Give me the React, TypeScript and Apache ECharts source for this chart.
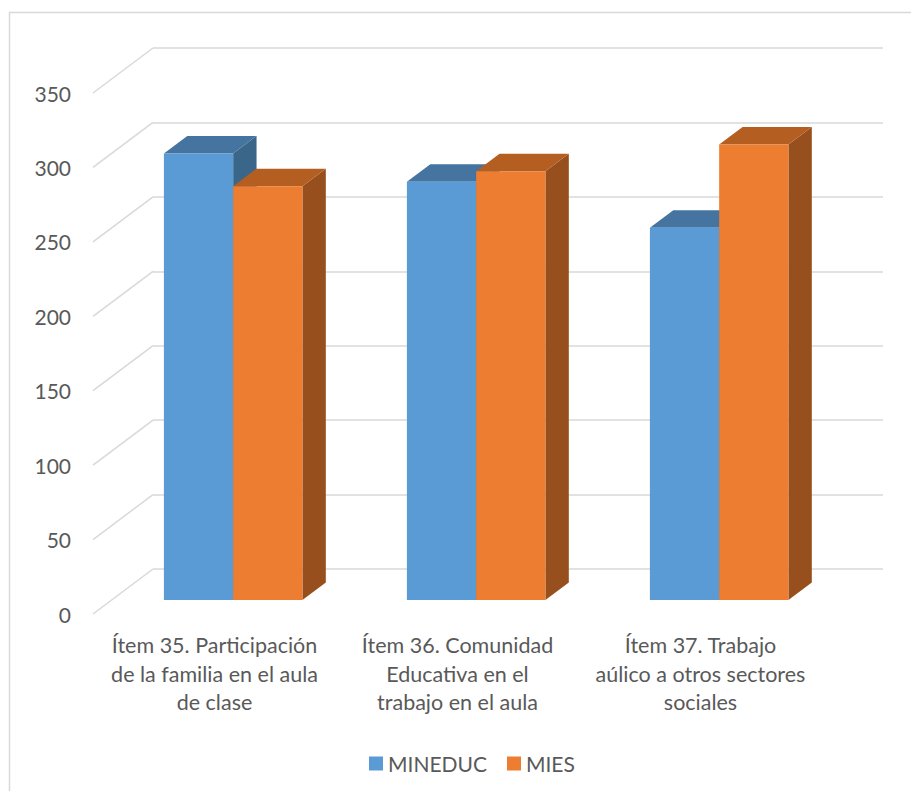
import React, { useEffect, useRef } from "react";
import * as echarts from "echarts";

// Chart data
const categories = [
  "Ítem 35. Participación\nde la familia en el aula\nde clase",
  "Ítem 36. Comunidad\nEducativa en el\ntrabajo en el aula",
  "Ítem 37. Trabajo\naúlico a otros sectores\nsociales",
];
const seriesNames = ["MINEDUC", "MIES"];
const mineducValues = [300, 281, 250];
const miesValues = [278, 288, 306];
const yTicks = [0, 50, 100, 150, 200, 250, 300, 350];

// Oblique projection of the depth axis (full floor depth)
const DEPTH_X = 60;
const DEPTH_Y = -45;
const BAR_Z0 = 0.311; // where the bars' front faces sit
const BAR_DZ = 0.39; // how deep each bar is
const BAR_FRAC = 0.285; // bar width as share of a category band

const FONT = "Lato, 'Liberation Sans', sans-serif";
const TEXT = "#595959";
const GRID = "#D9D9D9";

type Shades = { front: string; top: string; side: string };
const blue: Shades = { front: "#5B9BD5", top: "#44749F", side: "#3A6689" };
const orange: Shades = { front: "#ED7D31", top: "#B55E22", side: "#97501D" };

const makeBox = (side: 0 | 1, c: Shades) => (params: any, api: any) => {
  const idx = api.value(0);
  const v = api.value(1);
  const base = api.coord([idx, 0]);
  const top = api.coord([idx, v]);
  const band = api.size([1, 0])[0];
  const w = band * BAR_FRAC;
  const ox = DEPTH_X * BAR_Z0;
  const oy = DEPTH_Y * BAR_Z0;
  const dx = DEPTH_X * BAR_DZ;
  const dy = DEPTH_Y * BAR_DZ;
  const x0 = base[0] + ox + (side === 0 ? -w : 0);
  const x1 = x0 + w;
  const yb = base[1] + oy;
  const yt = top[1] + oy;
  return {
    type: "group",
    children: [
      {
        type: "polygon",
        shape: { points: [[x1, yt], [x1 + dx, yt + dy], [x1 + dx, yb + dy], [x1, yb]] },
        style: { fill: c.side },
      },
      {
        type: "polygon",
        shape: { points: [[x0, yt], [x1, yt], [x1 + dx, yt + dy], [x0 + dx, yt + dy]] },
        style: { fill: c.top },
      },
      {
        type: "rect",
        shape: { x: x0, y: yt, width: w, height: yb - yt },
        style: { fill: c.front },
      },
    ],
  };
};

export default function App() {
  const ref = useRef<HTMLDivElement>(null);

  useEffect(() => {
    document.body.style.margin = "0";
    const chart = echarts.init(ref.current!, null, { renderer: "svg" });
    chart.setOption({
      animation: false,
      backgroundColor: "#ffffff",
      textStyle: { fontFamily: FONT },
      graphic: [
        {
          type: "rect",
          shape: { x: 9.5, y: 12.5, width: 1200, height: 1200 },
          style: { fill: "none", stroke: GRID, lineWidth: 1.5 },
          silent: true,
        },
      ],
      legend: {
        data: seriesNames,
        left: 369,
        top: 753,
        padding: 0,
        itemWidth: 14,
        itemHeight: 14,
        itemGap: 20,
        icon: "rect",
        textStyle: { fontSize: 21, color: TEXT, fontFamily: FONT },
      },
      grid: [
        // back wall
        { left: 153, top: 48, width: 730, height: 521 },
        // front plane
        { left: 93, top: 93, width: 729, height: 521 },
      ],
      xAxis: [
        { type: "category", gridIndex: 0, data: categories, show: false },
        {
          type: "category",
          gridIndex: 1,
          data: categories,
          axisLine: { show: false },
          axisTick: { show: false },
          axisLabel: {
            interval: 0,
            margin: 17,
            fontSize: 21.5,
            lineHeight: 28.5,
            color: TEXT,
            fontFamily: FONT,
            align: "center",
          },
        },
      ],
      yAxis: [
        {
          type: "value",
          gridIndex: 0,
          min: 0,
          max: 350,
          interval: 50,
          axisLabel: { show: false },
          axisLine: { show: false },
          axisTick: { show: false },
          splitLine: { show: true, lineStyle: { color: GRID, width: 1.5 } },
        },
        {
          type: "value",
          gridIndex: 1,
          min: 0,
          max: 350,
          interval: 50,
          axisLine: { show: false },
          axisTick: { show: false },
          splitLine: { show: false },
          axisLabel: { margin: 22, fontSize: 21, color: TEXT, fontFamily: FONT },
        },
      ],
      series: [
        {
          // side-wall / floor depth lines at every tick
          type: "custom",
          name: "depth",
          xAxisIndex: 1,
          yAxisIndex: 1,
          silent: true,
          data: yTicks.map((v) => [0, v]),
          renderItem: (params: any, api: any) => {
            const y = api.coord([0, api.value(1)])[1];
            const x = params.coordSys.x;
            return {
              type: "line",
              shape: { x1: x, y1: y, x2: x + DEPTH_X, y2: y + DEPTH_Y },
              style: { stroke: GRID, lineWidth: 1.5 },
            };
          },
        },
        {
          type: "custom",
          name: seriesNames[0],
          xAxisIndex: 1,
          yAxisIndex: 1,
          itemStyle: { color: blue.front },
          data: mineducValues.map((v, i) => [i, v]),
          renderItem: makeBox(0, blue),
        },
        {
          type: "custom",
          name: seriesNames[1],
          xAxisIndex: 1,
          yAxisIndex: 1,
          itemStyle: { color: orange.front },
          data: miesValues.map((v, i) => [i, v]),
          renderItem: makeBox(1, orange),
        },
      ],
    });
    return () => chart.dispose();
  }, []);

  return <div ref={ref} style={{ width: 911, height: 791 }} />;
}
